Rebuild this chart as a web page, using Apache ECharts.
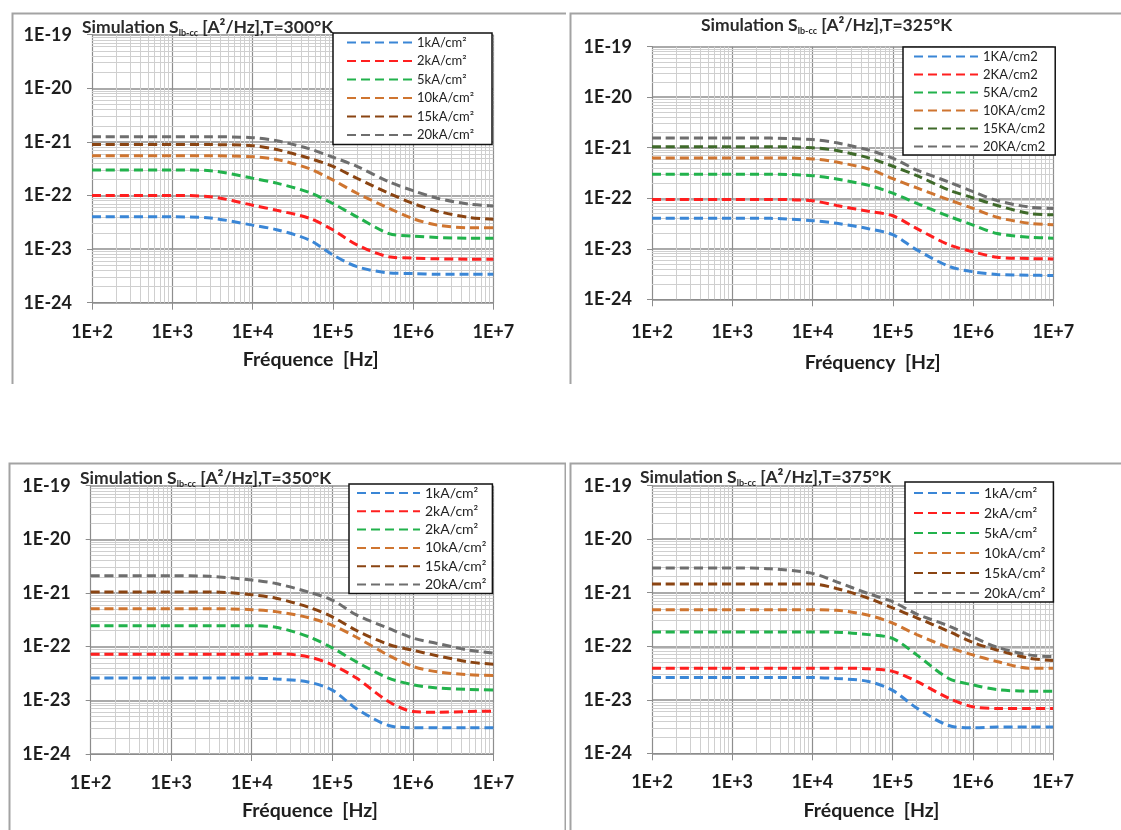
<!DOCTYPE html>
<html><head><meta charset="utf-8">
<script src="https://cdn.jsdelivr.net/npm/echarts@6/dist/echarts.min.js"></script>
<style>
html,body{margin:0;padding:0;background:#fff;overflow:hidden;width:1121px;height:830px;}
.p{position:absolute;}
</style></head><body>
<div id="c1" class="p" style="left:9px;top:10px;width:557px;height:374px"></div>
<div id="c2" class="p" style="left:567px;top:10px;width:560px;height:374px"></div>
<div id="c3" class="p" style="left:6px;top:460px;width:560px;height:380px"></div>
<div id="c4" class="p" style="left:567px;top:460px;width:560px;height:380px"></div>
<script>
// ---------- data ----------
const freq = [1e2, 1e3, 3e3, 1e4, 2e4, 5e4, 1e5, 2e5, 5e5, 1e6, 2e6, 5e6, 1e7];
const xDecades = [1e2, 1e3, 1e4, 1e5, 1e6, 1e7];
const yDecades = [1e-24, 1e-23, 1e-22, 1e-21, 1e-20, 1e-19];

// T = 300 K
const t300_1  = [4.0e-23, 4.0e-23, 3.8e-23, 2.8e-23, 2.3e-23, 1.5e-23, 7.8e-24, 4.7e-24, 3.6e-24, 3.5e-24, 3.4e-24, 3.4e-24, 3.4e-24];
const t300_2  = [1.0e-22, 1.0e-22, 9.5e-23, 6.6e-23, 5.3e-23, 3.8e-23, 2.3e-23, 1.2e-23, 7.2e-24, 6.8e-24, 6.6e-24, 6.5e-24, 6.5e-24];
const t300_5  = [3.0e-22, 3.0e-22, 2.9e-22, 2.1e-22, 1.7e-22, 1.15e-22, 7.1e-23, 4.0e-23, 1.95e-23, 1.75e-23, 1.65e-23, 1.6e-23, 1.6e-23];
const t300_10 = [5.5e-22, 5.5e-22, 5.5e-22, 5.3e-22, 4.7e-22, 3.2e-22, 1.95e-22, 1.1e-22, 5.8e-23, 3.7e-23, 2.8e-23, 2.5e-23, 2.5e-23];
const t300_15 = [8.9e-22, 8.9e-22, 8.9e-22, 8.5e-22, 7.2e-22, 5.0e-22, 3.5e-22, 2.1e-22, 1.1e-22, 7.1e-23, 5.1e-23, 3.9e-23, 3.6e-23];
const t300_20 = [1.25e-21, 1.25e-21, 1.25e-21, 1.2e-21, 1.05e-21, 7.5e-22, 5.2e-22, 3.5e-22, 1.8e-22, 1.23e-22, 8.9e-23, 6.9e-23, 6.4e-23];

// T = 325 K
const t325_1  = [4.0e-23, 4.0e-23, 4.0e-23, 3.6e-23, 3.2e-23, 2.5e-23, 1.9e-23, 9.5e-24, 4.5e-24, 3.5e-24, 3.1e-24, 3.0e-24, 2.95e-24];
const t325_2  = [9.5e-23, 9.5e-23, 9.5e-23, 8.9e-23, 7.2e-23, 5.5e-23, 4.5e-23, 2.5e-23, 1.2e-23, 8.7e-24, 6.8e-24, 6.4e-24, 6.3e-24];
const t325_5  = [3.0e-22, 3.0e-22, 3.0e-22, 2.8e-22, 2.4e-22, 1.8e-22, 1.26e-22, 7.9e-23, 4.4e-23, 2.95e-23, 2.0e-23, 1.7e-23, 1.62e-23];
const t325_10 = [6.3e-22, 6.3e-22, 6.3e-22, 6.0e-22, 5.2e-22, 3.8e-22, 2.45e-22, 1.6e-22, 9.3e-23, 6.3e-23, 4.2e-23, 3.2e-23, 3.0e-23];
const t325_15 = [1.05e-21, 1.05e-21, 1.05e-21, 1.0e-21, 8.8e-22, 6.3e-22, 4.3e-22, 2.8e-22, 1.45e-22, 1.02e-22, 7.2e-23, 5.0e-23, 4.7e-23];
const t325_20 = [1.55e-21, 1.55e-21, 1.55e-21, 1.45e-21, 1.25e-21, 9.0e-22, 6.2e-22, 3.6e-22, 2.1e-22, 1.35e-22, 9.0e-23, 6.7e-23, 6.3e-23];

// T = 350 K
const t350_1  = [2.6e-23, 2.6e-23, 2.6e-23, 2.6e-23, 2.5e-23, 2.2e-23, 1.55e-23, 7.0e-24, 3.4e-24, 3.1e-24, 3.1e-24, 3.1e-24, 3.1e-24];
const t350_2  = [7.2e-23, 7.2e-23, 7.2e-23, 7.2e-23, 7.4e-23, 6.5e-23, 4.6e-23, 2.6e-23, 9.5e-24, 6.2e-24, 6.0e-24, 6.2e-24, 6.3e-24];
const t350_2b = [2.45e-22, 2.45e-22, 2.45e-22, 2.45e-22, 2.3e-22, 1.55e-22, 9.5e-23, 5.2e-23, 2.6e-23, 1.95e-23, 1.7e-23, 1.6e-23, 1.55e-23];
const t350_10 = [5.1e-22, 5.1e-22, 5.1e-22, 4.9e-22, 4.5e-22, 3.5e-22, 2.5e-22, 1.5e-22, 6.9e-23, 4.3e-23, 3.4e-23, 3.0e-23, 2.9e-23];
const t350_15 = [1.05e-21, 1.05e-21, 1.05e-21, 9.3e-22, 8.0e-22, 5.5e-22, 3.6e-22, 2.0e-22, 1.1e-22, 8.6e-23, 6.8e-23, 5.2e-23, 4.7e-23];
const t350_20 = [2.1e-21, 2.1e-21, 2.05e-21, 1.75e-21, 1.5e-21, 1.05e-21, 7.4e-22, 3.9e-22, 2.2e-22, 1.45e-22, 1.15e-22, 8.6e-23, 7.6e-23];

// T = 375 K
const t375_1  = [2.6e-23, 2.6e-23, 2.6e-23, 2.6e-23, 2.5e-23, 2.2e-23, 1.5e-23, 7.0e-24, 3.3e-24, 3.0e-24, 3.1e-24, 3.1e-24, 3.1e-24];
const t375_2  = [3.9e-23, 3.9e-23, 3.9e-23, 3.9e-23, 3.9e-23, 3.8e-23, 3.4e-23, 2.2e-23, 1.07e-23, 7.4e-24, 6.9e-24, 6.9e-24, 6.9e-24];
const t375_5  = [1.85e-22, 1.85e-22, 1.85e-22, 1.85e-22, 1.83e-22, 1.65e-22, 1.4e-22, 6.9e-23, 2.5e-23, 1.9e-23, 1.55e-23, 1.45e-23, 1.45e-23];
const t375_10 = [4.8e-22, 4.8e-22, 4.8e-22, 4.8e-22, 4.7e-22, 3.8e-22, 2.7e-22, 1.65e-22, 9.5e-23, 6.9e-23, 5.2e-23, 3.9e-23, 3.9e-23];
const t375_15 = [1.45e-21, 1.45e-21, 1.45e-21, 1.45e-21, 1.2e-21, 7.9e-22, 5.2e-22, 3.4e-22, 1.9e-22, 1.18e-22, 8.5e-23, 6.0e-23, 5.4e-23];
const t375_20 = [2.9e-21, 2.9e-21, 2.8e-21, 2.3e-21, 1.6e-21, 9.6e-22, 6.8e-22, 4.0e-22, 2.4e-22, 1.5e-22, 9.6e-23, 6.9e-23, 6.4e-23];

const names300 = ['1kA/cm²', '2kA/cm²', '5kA/cm²', '10kA/cm²', '15kA/cm²', '20kA/cm²'];
const names325 = ['1KA/cm2', '2KA/cm2', '5KA/cm2', '10KA/cm2', '15KA/cm2', '20KA/cm2'];
const names350 = ['1kA/cm²', '2kA/cm²', '2kA/cm²\u200B', '10kA/cm²', '15kA/cm²', '20kA/cm²'];
const names375 = ['1kA/cm²', '2kA/cm²', '5kA/cm²', '10kA/cm²', '15kA/cm²', '20kA/cm²'];

const temps = ['300', '325', '350', '375'];
const axisNames = ['Fréquence  [Hz]', 'Fréquency  [Hz]', 'Fréquence  [Hz]', 'Fréquence  [Hz]'];

// ---------- styles ----------
// ECharts' log scale misbehaves with values near 1e-24, so the y values are
// handed to the axis in units of Y_UNIT (1e-24 A²/Hz); labels show the real exponent.
const Y_UNIT = 1e-24;
const C = {blue:'#3a86d6', red:'#ff1f1f', green:'#22b24c', orange:'#cf7530', brown:'#8a4412', gray:'#6e6e6e', dgreen:'#3f6a2a'};
const FONT = 'Lato';
const minorMult = [2,3,4,5,6,7,8,9];
const minorX = [];
xDecades.slice(0, -1).forEach(d => minorMult.forEach(m => minorX.push(m * d)));
const minorY = [];
yDecades.slice(0, -1).forEach(d => minorMult.forEach(m => minorY.push(m * d / Y_UNIT)));
const yExp = v => Math.round(Math.log10(v)) + Math.round(Math.log10(Y_UNIT));

function build(id, L) {
  const chart = echarts.init(document.getElementById(id), null, {renderer: 'canvas'});
  const series = [{
    type: 'line', data: [[1e2, 1]], symbol: 'none', silent: true, z: 1,
    lineStyle: {opacity: 0}, animation: false,
    markLine: {
      silent: true, z: 1, symbol: ['none', 'none'], label: {show: false}, animation: false,
      emphasis: {disabled: true},
      lineStyle: {color: '#cfcfcf', width: 1, type: 'solid'},
      data: minorX.map(v => ({xAxis: v})).concat(minorY.map(v => ({yAxis: v})))
    }
  }];
  L.data.forEach((vals, i) => series.push({
    name: L.names[i], type: 'line', z: 3, animation: false,
    data: freq.map((f, j) => [f, vals[j] / Y_UNIT]),
    smooth: 0.3, symbol: 'none', showSymbol: false,
    lineStyle: {color: L.colors[i], width: 3, type: [9, 5]},
    itemStyle: {color: L.colors[i]}
  }));
  const lblStyle = {fontFamily: FONT, fontWeight: 'bold', fontSize: 18, color: '#1e1e1e'};
  chart.setOption({
    animation: false,
    graphic: [{type: 'rect', left: 1, top: 1, z: 0, shape: {width: L.bw, height: L.bh},
      style: {fill: 'none', stroke: '#a3a3a3', lineWidth: 2}, silent: true}],
    title: {
      text: '{a|Simulation S}{s|lb-cc}{a| [A²/Hz],T=' + L.temp + '°K}',
      left: L.titleLeft, top: L.titleTop, padding: 0,
      textStyle: {rich: {
        a: {fontFamily: FONT, fontWeight: 'bold', fontSize: 17.5, color: '#2a2a2a', lineHeight: 22, verticalAlign: 'middle'},
        s: {fontFamily: FONT, fontSize: 9, color: '#2a2a2a', lineHeight: 22, verticalAlign: 'bottom'}
      }}
    },
    legend: {
      orient: 'vertical', left: L.lg.left, top: L.lg.top, z: 10,
      data: L.names,
      itemWidth: L.lg.iw, itemHeight: 14, itemGap: L.lg.gap,
      itemStyle: {opacity: 0},
      padding: L.lg.pad, backgroundColor: '#fff',
      borderColor: '#111', borderWidth: 1.5, borderRadius: 0,
      textStyle: {fontFamily: FONT, fontSize: L.lg.fs, color: '#222'},
      formatter: n => n.replace('\u200B', ''),
      selectedMode: false
    },
    grid: {left: L.grid[0], top: L.grid[1], width: L.grid[2], height: L.grid[3]},
    xAxis: {
      type: 'log', logBase: 10, min: 1e2, max: 1e7, splitNumber: 5,
      name: L.axisName, nameLocation: 'middle', nameGap: L.nameGap,
      nameTextStyle: {fontFamily: FONT, fontWeight: 'bold', fontSize: 19.5, color: '#1e1e1e', padding: [0, 0, 0, L.nameShift]},
      axisLine: {show: true, lineStyle: {color: '#8c8c8c', width: 1}},
      axisTick: {show: true, inside: false, length: 7, lineStyle: {color: '#8c8c8c'}},
      axisLabel: Object.assign({margin: L.xMargin, formatter: v => '1E+' + Math.round(Math.log10(v))}, lblStyle),
      splitLine: {show: true, lineStyle: {color: '#8e8e8e', width: 1.2}}
    },
    yAxis: {
      type: 'log', logBase: 10, min: yDecades[0] / Y_UNIT, max: yDecades[5] / Y_UNIT, splitNumber: 5,
      axisLine: {show: true, lineStyle: {color: '#8c8c8c', width: 1}},
      axisTick: {show: true, inside: false, length: 5, lineStyle: {color: '#8c8c8c'}},
      axisLabel: Object.assign({margin: 20, formatter: v => '1E' + yExp(v)}, lblStyle),
      splitLine: {show: true, lineStyle: {color: '#8e8e8e', width: 1.5}}
    },
    series: series
  });
}

build('c1', {
  temp: temps[0], names: names300, axisName: axisNames[0],
  data: [t300_1, t300_2, t300_5, t300_10, t300_15, t300_20],
  colors: [C.blue, C.red, C.green, C.orange, C.brown, C.gray],
  bw: 555, bh: 372, grid: [83, 24.7, 401.3, 268],
  titleLeft: 73, titleTop: 6, nameGap: 47, nameShift: 36, xMargin: 20,
  lg: {left: 324, top: 23, iw: 65, gap: 5.5, pad: [3, 18, 3, 13], fs: 13}
});
build('c2', {
  temp: temps[1], names: names325, axisName: axisNames[1],
  data: [t325_1, t325_2, t325_5, t325_10, t325_15, t325_20],
  colors: [C.blue, C.red, C.green, C.orange, C.dgreen, C.gray],
  bw: 600, bh: 372, grid: [85, 36.7, 401.3, 252.6],
  titleLeft: 134, titleTop: 4, nameGap: 53, nameShift: 40, xMargin: 24,
  lg: {left: 336, top: 37, iw: 64, gap: 5, pad: [3, 10, 2, 10], fs: 13}
});
build('c3', {
  temp: temps[2], names: names350, axisName: axisNames[2],
  data: [t350_1, t350_2, t350_2b, t350_10, t350_15, t350_20],
  colors: [C.blue, C.red, C.green, C.orange, C.brown, C.gray],
  bw: 556, bh: 400, grid: [84.7, 25.7, 402.6, 268.3],
  titleLeft: 74, titleTop: 7, nameGap: 47, nameShift: 36, xMargin: 20,
  lg: {left: 343, top: 24, iw: 63, gap: 4.3, pad: [2, 6, 2, 7], fs: 14}
});
build('c4', {
  temp: temps[3], names: names375, axisName: axisNames[3],
  data: [t375_1, t375_2, t375_5, t375_10, t375_15, t375_20],
  colors: [C.blue, C.red, C.green, C.orange, C.brown, C.gray],
  bw: 600, bh: 400, grid: [85, 25.7, 401, 267.6],
  titleLeft: 73, titleTop: 6, nameGap: 47, nameShift: 38, xMargin: 20,
  lg: {left: 338, top: 22, iw: 65, gap: 6, pad: [4, 8, 2, 8], fs: 14}
});
</script>
</body></html>
